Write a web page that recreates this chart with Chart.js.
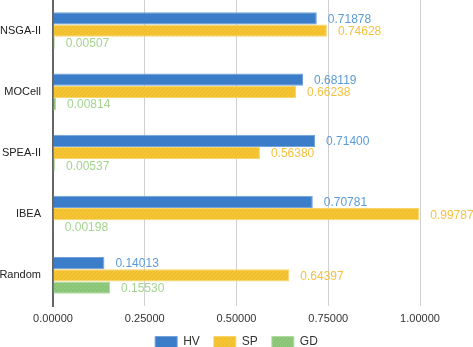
<!DOCTYPE html>
<html>
<head>
<meta charset="utf-8">
<script src="https://cdn.jsdelivr.net/npm/chart.js@4/dist/chart.umd.min.js"></script>
<style>
html,body{margin:0;padding:0;background:#fff;}
#wrap{width:473px;height:347px;position:relative;}
</style>
</head>
<body>
<div id="wrap"><canvas id="c" width="473" height="347"></canvas></div>
<script>
const categories = ["NSGA-II", "MOCell", "SPEA-II", "IBEA", "Random"];
const hvValues = [0.71878, 0.68119, 0.71400, 0.70781, 0.14013];
const spValues = [0.74628, 0.66238, 0.56380, 0.99787, 0.64397];
const gdValues = [0.00507, 0.00814, 0.00537, 0.00198, 0.15530];
const xTicks = [0, 0.25, 0.5, 0.75, 1.0];

function hatch(base, line) {
  const p = document.createElement('canvas');
  p.width = 4; p.height = 4;
  const g = p.getContext('2d');
  g.fillStyle = base; g.fillRect(0, 0, 4, 4);
  g.strokeStyle = line; g.lineWidth = 1;
  g.beginPath(); g.moveTo(0, 4); g.lineTo(4, 0); g.stroke();
  return g.createPattern(p, 'repeat');
}
const ctx = document.getElementById('c').getContext('2d');
const spFill = hatch('#F5C433', '#EDBB2C');
const gdFill = hatch('#8FC97C', '#86C173');

const labelColors = ['#5B9BD8', '#F4C242', '#A3D48F'];
const FONT = '"Liberation Sans", Arial, sans-serif';

const valueLabels = {
  id: 'valueLabels',
  afterDatasetsDraw(chart) {
    const c = chart.ctx;
    c.save();
    c.font = '12px ' + FONT;
    c.textBaseline = 'middle';
    c.textAlign = 'left';
    chart.data.datasets.forEach((ds, i) => {
      const meta = chart.getDatasetMeta(i);
      c.fillStyle = labelColors[i];
      meta.data.forEach((bar, j) => {
        c.fillText(ds.data[j].toFixed(5), bar.x + 11, bar.y + 1);
      });
    });
    c.restore();
  }
};

const legendFit = {
  id: 'legendFit',
  afterInit(chart) {
    const lg = chart.legend;
    if (!lg) return;
    const orig = lg.fit.bind(lg);
    lg.fit = function () { orig(); this.height = 22; };
  },
  afterLayout(chart) {
    const lg = chart.legend;
    if (lg) {
      lg.top -= 3; lg.height += 3;
      lg.left = 0; lg.right = chart.width; lg.width = chart.width;
    }
  }
};

new Chart(ctx, {
  type: 'bar',
  data: {
    labels: categories,
    datasets: [
      { label: 'HV', data: hvValues, backgroundColor: '#3B7DC8', borderColor: '#6FA2DA', borderWidth: 1 },
      { label: 'SP', data: spValues, backgroundColor: spFill, borderColor: '#F8D56A', borderWidth: 1 },
      { label: 'GD', data: gdValues, backgroundColor: gdFill, borderColor: '#B2DBA3', borderWidth: 1 }
    ]
  },
  options: {
    indexAxis: 'y',
    responsive: false,
    animation: false,
    devicePixelRatio: 1,
    layout: { padding: { left: 0, right: 53, top: 0, bottom: 0 } },
    datasets: { bar: { categoryPercentage: 0.6, barPercentage: 1.0 } },
    scales: {
      x: {
        min: 0, max: 1,
        afterBuildTicks(scale) { scale.ticks = xTicks.map(v => ({ value: v })); },
        afterFit(scale) { scale.height = 19; scale.paddingLeft = 0; scale.paddingRight = 0; },
        ticks: {
          color: '#333',
          font: { size: 11, family: FONT },
          padding: 6,
          maxRotation: 0,
          callback: v => Number(v).toFixed(5)
        },
        grid: { color: '#D0D0D0', lineWidth: 1, drawTicks: false },
        border: { display: false }
      },
      y: {
        afterFit(scale) { scale.paddingTop = 0; scale.paddingBottom = 0; scale.width = 53; },
        ticks: {
          color: '#222',
          font: { size: 11, family: FONT },
          padding: 12
        },
        grid: { display: false, drawTicks: false },
        border: { display: true, color: '#666', width: 2 }
      }
    },
    plugins: {
      legend: {
        position: 'bottom',
        labels: {
          boxWidth: 22, boxHeight: 11, padding: 14,
          color: '#333',
          font: { size: 12, family: FONT }
        }
      },
      tooltip: { enabled: false }
    }
  },
  plugins: [valueLabels, legendFit]
});
</script>
</body>
</html>
